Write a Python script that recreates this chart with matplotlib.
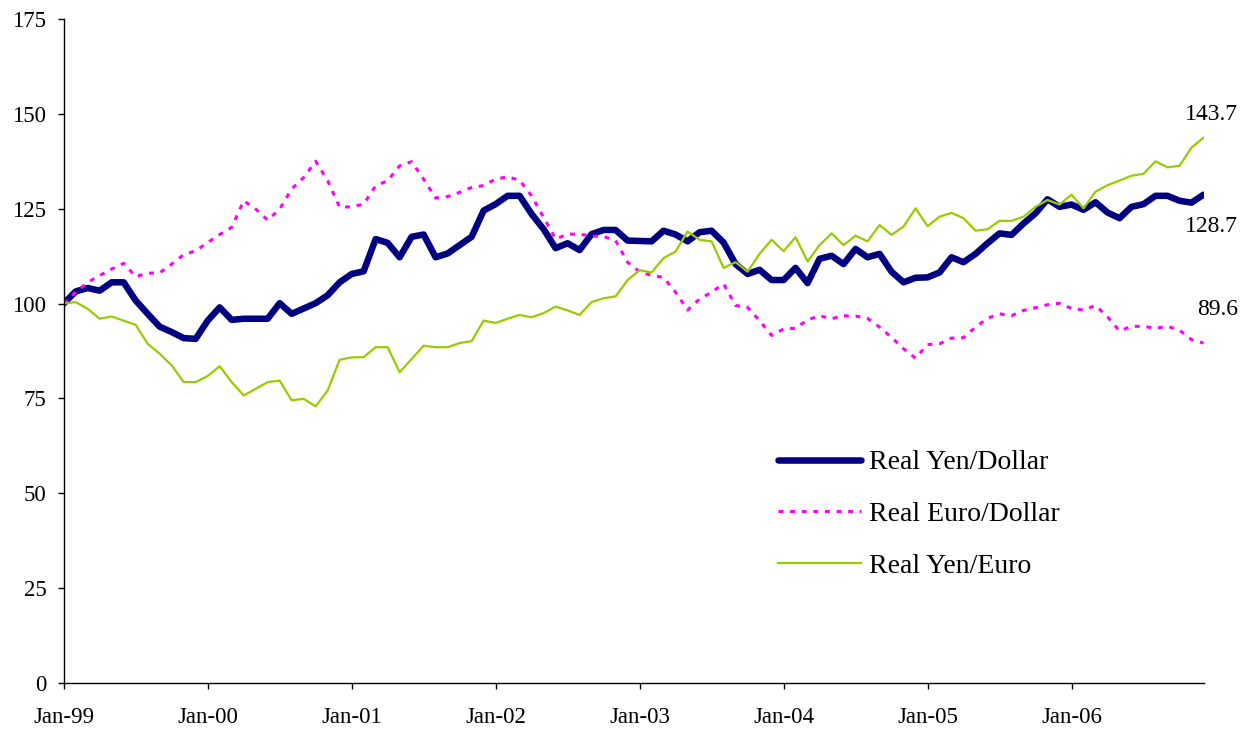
import matplotlib
matplotlib.use("Agg")
import matplotlib.pyplot as plt
import numpy as np

months = np.arange(96)
tick_positions = [0, 12, 24, 36, 48, 60, 72, 84]
tick_labels = ["Jan-99", "Jan-00", "Jan-01", "Jan-02", "Jan-03", "Jan-04", "Jan-05", "Jan-06"]

yen_dollar = [100.0, 103.2, 104.1, 103.4, 105.6, 105.6, 100.8, 97.3, 93.9, 92.5, 90.9, 90.7,
              95.5, 99.0, 95.7, 96.0, 96.0, 96.0, 100.1, 97.3, 98.7, 100.1, 102.2, 105.6,
              107.8, 108.5, 117.0, 116.0, 112.2, 117.6, 118.2, 112.2, 113.2, 115.4, 117.6, 124.5,
              126.2, 128.4, 128.4, 123.6, 119.6, 114.6, 115.9, 114.1, 118.3, 119.4, 119.4, 116.6,
              116.5, 116.4, 119.2, 118.2, 116.4, 118.8, 119.2, 116.1, 110.4, 107.8, 108.9, 106.2,
              106.2, 109.4, 105.4, 111.8, 112.6, 110.4, 114.4, 112.2, 113.1, 108.4, 105.6, 106.8,
              106.9, 108.2, 112.2, 110.9, 113.1, 115.9, 118.5, 118.1, 121.1, 123.8, 127.5, 125.5,
              126.1, 124.7, 126.7, 124.0, 122.5, 125.5, 126.2, 128.4, 128.4, 127.1, 126.6, 128.7]

euro_dollar = [100.0, 103.0, 105.6, 107.4, 109.1, 110.6, 107.1, 108.0, 108.1, 110.4, 112.9, 113.9,
               116.1, 118.2, 120.1, 127.1, 124.9, 122.0, 124.9, 130.2, 133.2, 137.5, 132.4, 125.4,
               125.5, 126.2, 131.0, 132.4, 136.3, 137.4, 132.8, 127.8, 128.2, 129.3, 130.6, 131.1,
               132.8, 133.4, 132.5, 128.4, 122.7, 117.0, 118.3, 118.3, 117.8, 117.7, 116.6, 110.9,
               108.4, 107.4, 106.9, 103.0, 98.3, 101.2, 103.0, 105.2, 99.5, 99.0, 95.5, 91.6,
               93.3, 93.5, 95.7, 96.8, 96.0, 96.8, 96.7, 96.1, 93.8, 91.1, 88.1, 85.6,
               89.2, 89.4, 90.9, 91.0, 93.8, 96.1, 97.3, 96.8, 98.2, 98.9, 99.7, 100.1,
               98.7, 98.3, 99.5, 96.5, 92.8, 94.0, 94.0, 93.5, 94.0, 93.0, 90.5, 89.6]

yen_euro = [100.0, 100.4, 98.6, 96.0, 96.6, 95.5, 94.4, 89.4, 86.8, 83.7, 79.3, 79.3,
            80.9, 83.5, 79.3, 75.8, 77.5, 79.3, 79.7, 74.5, 74.9, 72.9, 77.1, 85.2,
            85.8, 85.9, 88.5, 88.5, 81.9, 85.4, 88.9, 88.5, 88.5, 89.6, 90.1, 95.5,
            94.9, 96.0, 97.0, 96.4, 97.5, 99.2, 98.2, 97.0, 100.4, 101.4, 101.9, 106.2,
            108.8, 108.2, 112.0, 113.7, 119.0, 116.8, 116.4, 109.4, 110.9, 108.4, 113.1, 116.8,
            113.8, 117.5, 111.1, 115.4, 118.5, 115.4, 117.9, 116.4, 120.7, 118.1, 120.3, 125.1,
            120.4, 122.9, 123.9, 122.5, 119.2, 119.6, 121.8, 121.8, 122.9, 125.5, 127.3, 126.1,
            128.7, 125.1, 129.5, 131.2, 132.4, 133.7, 134.2, 137.5, 135.9, 136.3, 141.1, 143.7]

series_labels = ["Real Yen/Dollar", "Real Euro/Dollar", "Real Yen/Euro"]
end_labels = ["128.7", "89.6", "143.7"]

plt.rcParams['font.family'] = ['Liberation Serif', 'DejaVu Serif']

fig = plt.figure(figsize=(12.54, 7.32), dpi=100)
ax = fig.add_axes([63.7 / 1254, (732 - 683) / 732, (1203.5 - 63.7) / 1254, (683 - 19) / 732])

ax.plot(months, yen_dollar, color="#000080", lw=4.7, solid_joinstyle="round",
        solid_capstyle="round", label=series_labels[0])
ax.plot(months, euro_dollar, color="#FF00FF", lw=2.2, linestyle=(0, (1.6, 2.2)),
        dash_capstyle="butt", label=series_labels[1])
ax.plot(months, yen_euro, color="#99CC00", lw=1.6, label=series_labels[2])

ax.set_xlim(0, 95)
ax.set_ylim(0, 175)
ax.set_yticks(np.arange(0, 176, 25))
ax.set_xticks(tick_positions)
ax.set_xticklabels(tick_labels)

for s in ["top", "right"]:
    ax.spines[s].set_visible(False)
for s in ["left", "bottom"]:
    ax.spines[s].set_linewidth(1.0)
    ax.spines[s].set_color("black")

ax.tick_params(axis="y", direction="out", length=4.5, width=1, labelsize=16.5, pad=8)
ax.tick_params(axis="x", direction="out", length=4.5, width=1, labelsize=16.5, pad=13)

# end-value annotations
ax.annotate(end_labels[2], xy=(95, yen_euro[-1]), xytext=(25, 17), textcoords="offset points",
            ha="right", va="center", fontsize=17)
ax.annotate(end_labels[0], xy=(95, yen_dollar[-1]), xytext=(25, -23), textcoords="offset points",
            ha="right", va="center", fontsize=17)
ax.annotate(end_labels[1], xy=(95, euro_dollar[-1]), xytext=(25, 24), textcoords="offset points",
            ha="right", va="center", fontsize=17)

leg = ax.legend(loc="upper left", bbox_to_anchor=(778 / 1254, (732 - 450) / 732),
                bbox_transform=fig.transFigure, frameon=False, fontsize=20,
                handlelength=3.0, handletextpad=0.29, labelspacing=0.94, borderaxespad=0,
                borderpad=0)

fig.savefig("out.png", dpi=100)
